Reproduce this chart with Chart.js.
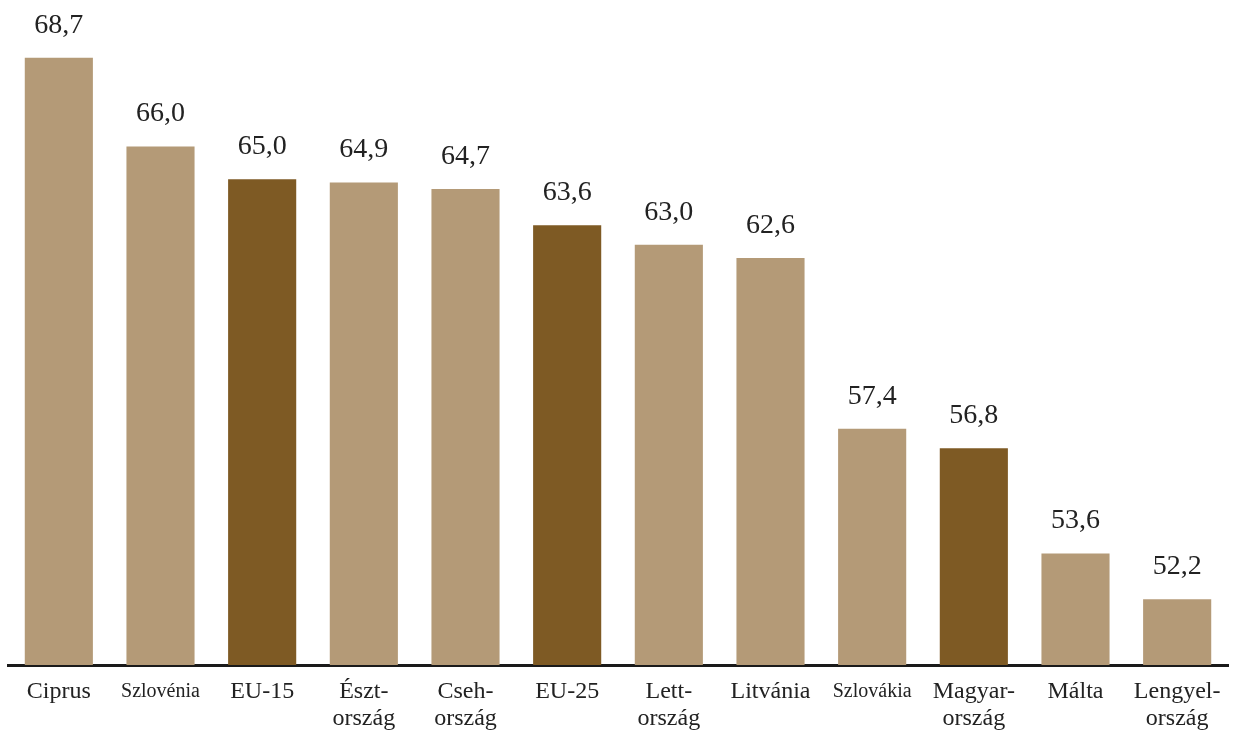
<!DOCTYPE html>
<html>
<head>
<meta charset="utf-8">
<script src="https://cdn.jsdelivr.net/npm/chart.js@4.4.1/dist/chart.umd.min.js"></script>
<style>
  html, body { margin: 0; padding: 0; background: #ffffff; }
  #wrap { width: 1242px; height: 733px; }
</style>
</head>
<body>
<div id="wrap"><canvas id="c" width="1242" height="733"></canvas></div>
<script>
const categories = [
  'Ciprus', 'Szlovénia', 'EU-15', ['Észt-', 'ország'], ['Cseh-', 'ország'], 'EU-25',
  ['Lett-', 'ország'], 'Litvánia', 'Szlovákia', ['Magyar-', 'ország'], 'Málta', ['Lengyel-', 'ország']
];
const values = [68.7, 66.0, 65.0, 64.9, 64.7, 63.6, 63.0, 62.6, 57.4, 56.8, 53.6, 52.2];
const highlighted = [false, false, true, false, false, true, false, false, false, true, false, false];
const narrowLabels = [false, true, false, false, false, false, false, false, true, false, false, false];

const LIGHT = '#b49a77';
const DARK = '#7e5a24';

const valueLabels = {
  id: 'valueLabels',
  afterDatasetsDraw(chart) {
    const ctx = chart.ctx;
    const meta = chart.getDatasetMeta(0);
    ctx.save();
    ctx.font = '28px "Liberation Serif", serif';
    ctx.fillStyle = '#222222';
    ctx.textAlign = 'center';
    ctx.textBaseline = 'alphabetic';
    meta.data.forEach((el, i) => {
      const txt = values[i].toFixed(1).replace('.', ',');
      ctx.fillText(txt, el.x, el.y - 25);
    });
    ctx.restore();
  }
};

new Chart(document.getElementById('c'), {
  type: 'bar',
  data: {
    labels: categories,
    datasets: [{
      data: values,
      backgroundColor: highlighted.map(h => h ? DARK : LIGHT),
      borderWidth: 0,
      barPercentage: 0.67,
      categoryPercentage: 1.0
    }]
  },
  options: {
    responsive: false,
    devicePixelRatio: 1,
    animation: false,
    layout: { padding: { left: 8, right: 14, top: 0, bottom: 0 } },
    plugins: { legend: { display: false }, tooltip: { enabled: false } },
    scales: {
      x: {
        grid: { display: false, drawTicks: false },
        border: { display: true, color: '#1a1a1a', width: 3 },
        afterFit(scale) { scale.height = 68; },
        ticks: {
          autoSkip: false,
          maxRotation: 0,
          minRotation: 0,
          padding: 13,
          color: '#222222',
          font: (ctx) => ({
            family: '"Liberation Serif", serif',
            size: narrowLabels[ctx.index] ? 20 : 24,
            lineHeight: '27px'
          })
        }
      },
      y: {
        display: false,
        min: 50.2,
        max: 70.46
      }
    }
  },
  plugins: [valueLabels]
});
</script>
</body>
</html>
